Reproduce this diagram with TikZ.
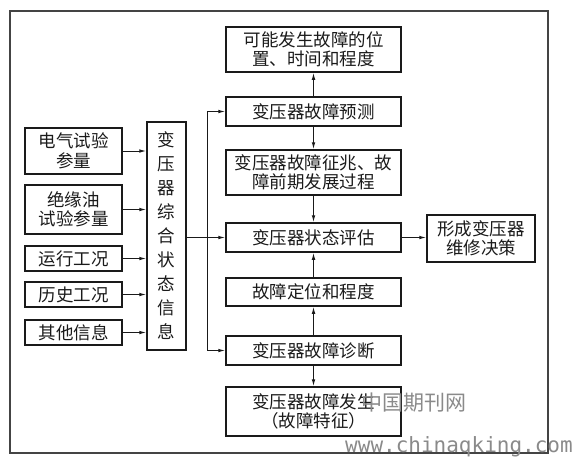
\documentclass[tikz,border=0pt]{standalone}
\usepackage{fontspec}
\setmainfont{Noto Sans CJK SC}
\newfontfamily\wmfont{DejaVu Sans Mono}
\usepackage{xcolor}
\usetikzlibrary{arrows.meta,positioning,calc}
\definecolor{ink}{HTML}{1A1A1A}
\definecolor{framegray}{HTML}{444444}
\definecolor{wmgray}{HTML}{8A8A8A}
\tikzset{
  box/.style={draw=ink,line width=1.5pt,inner sep=0pt,align=center,
    font=\fontsize{17.5}{19.5}\selectfont,text=ink},
  arr/.style={ink,line width=1pt,-{Latex[length=7pt,width=3.6pt]}},
}

\begin{document}
\begin{tikzpicture}[x=1pt,y=-1pt]
      \useasboundingbox (0,0) rectangle (575,461);
      \draw[framegray,line width=1.4pt] (10,11) rectangle (548,453);
      % centre column
      \node[box,minimum width=175,minimum height=45] (pos) at (313.5,49.5) {可能发生故障的位\\置、时间和程度};
      \node[box,minimum width=175,minimum height=29] (pred) at (313.5,111.5) {变压器故障预测};
      \node[box,minimum width=175,minimum height=45] (sympt) at (313.5,172.5) {变压器故障征兆、故\\障前期发展过程};
      \node[box,minimum width=175,minimum height=29] (eval) at (313.5,237.5) {变压器状态评估};
      \node[box,minimum width=175,minimum height=28] (loc) at (313.5,292) {故障定位和程度};
      \node[box,minimum width=175,minimum height=29] (diag) at (313.5,350.5) {变压器故障诊断};
      \node[box,minimum width=175,minimum height=49] (occur) at (313.5,411.5) {变压器故障发生\\（故障特征）};
      \node[box,minimum width=108,minimum height=47] (dec) at (481,238.5) {形成变压器\\维修决策};
      % inputs
      \node[box,minimum width=97,minimum height=46] (elec) at (73.5,151) {电气试验\\参量};
      \node[box,minimum width=97,minimum height=49] (oil) at (73.5,209.5) {绝缘油\\试验参量};
      \node[box,minimum width=97,minimum height=25] (run) at (73.5,258.5) {运行工况};
      \node[box,minimum width=97,minimum height=25] (hist) at (73.5,294.5) {历史工况};
      \node[box,minimum width=97,minimum height=25] (other) at (73.5,332.5) {其他信息};
      \node[box,minimum width=39,minimum height=228,font=\fontsize{17.5}{24}\selectfont] (info) at (166.5,236) {变\\压\\器\\综\\合\\状\\态\\信\\息};
      \foreach \n in {elec,oil,run,hist,other}
        \draw[arr] (\n.east) -- (\n.east -| info.west);
      % feed bus
      \coordinate (bus) at (207,237.5);
      \draw[arr] (info.east |- eval.west) -- (eval.west);
      \draw[arr] (bus) |- (pred.west);
      \draw[arr] (bus) |- (diag.west);
      \draw[arr] (pred.north) -- (pos.south);
      \draw[arr] (pred.south) -- (sympt.north);
      \draw[arr] (sympt.south) -- (eval.north);
      \draw[arr] (loc.north) -- (eval.south);
      \draw[arr] (diag.north) -- (loc.south);
      \draw[arr] (diag.south) -- (occur.north);
      \draw[arr] (eval.east) -- (eval.east -| dec.west);
      % watermark
      \node[wmgray,font=\fontsize{21}{21}\selectfont,inner sep=0pt] (wmcn) at (414,403) {中国期刊网};
      \node[wmgray,font=\wmfont\fontsize{21}{21}\selectfont,inner sep=0pt] (wmurl) at (459,447) {www.chinaqking.com};
    \end{tikzpicture}
\end{document}
